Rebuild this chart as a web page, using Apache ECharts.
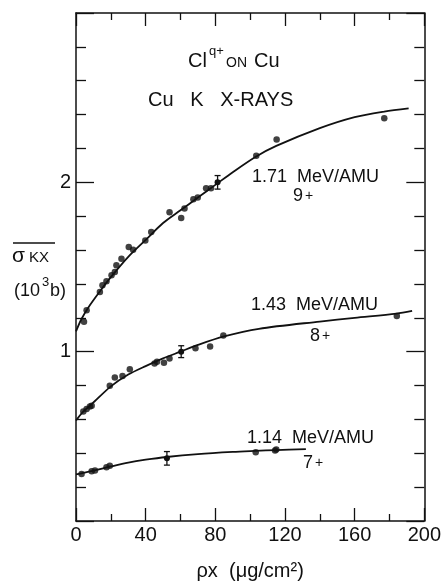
<!DOCTYPE html>
<html>
<head>
<meta charset="utf-8">
<script src="https://cdn.jsdelivr.net/npm/echarts@6/dist/echarts.min.js"></script>
<style>
  html, body { margin: 0; padding: 0; background: #fff; }
  #chart { width: 444px; height: 586px; }
</style>
</head>
<body>
<div id="chart"></div>
<script>
// measured points, x in ug/cm2, y in 10^3 b
const pts9 = [
  [4.6, 1.176], [6.1, 1.245], [13.7, 1.353], [15.2, 1.392], [17.5, 1.416],
  [20.4, 1.451], [22.3, 1.471], [23.2, 1.51], [26.1, 1.549], [30.3, 1.618],
  [32.8, 1.602], [39.8, 1.657], [43.2, 1.706], [53.7, 1.824], [60.4, 1.79],
  [62.3, 1.845], [67.4, 1.9], [69.9, 1.91], [74.7, 1.965], [77.5, 1.965],
  [103.5, 2.157], [115.2, 2.253], [177, 2.378]
];
const pts8 = [
  [4.2, 0.647], [6.1, 0.661], [8, 0.676], [9, 0.68], [19.4, 0.798],
  [22.3, 0.847], [26.7, 0.857], [30.9, 0.896], [45.1, 0.93], [46.5, 0.94],
  [50.5, 0.935], [53.7, 0.96], [68.6, 1.02], [77, 1.03], [84.6, 1.095],
  [184.2, 1.21]
];
const pts7 = [
  [3.2, 0.278], [9, 0.294], [10.9, 0.298], [17.5, 0.318], [19.4, 0.327],
  [103.2, 0.406], [114.3, 0.416], [115, 0.422]
];
// points carrying error bars: x, y, half-width
const errPts = [
  [81.3, 2.0, 0.04],
  [60.4, 1.0, 0.035],
  [52.2, 0.37, 0.04]
];
// fitted curves as drawn
const fit9 = [
  [0, 1.12], [3, 1.19], [7, 1.26], [14, 1.36], [20, 1.44], [30, 1.56],
  [40, 1.66], [50, 1.76], [60, 1.835], [70, 1.91], [80, 1.985], [90, 2.06],
  [103, 2.15], [115, 2.215], [140, 2.32], [160, 2.385], [177, 2.418], [191, 2.437]
];
const fit8 = [
  [0, 0.594], [4, 0.645], [9, 0.69], [20, 0.795], [30, 0.865], [40, 0.915],
  [50, 0.96], [60, 1.0], [70, 1.04], [85, 1.09], [105, 1.135], [140, 1.178],
  [160, 1.2], [184, 1.225], [193, 1.241]
];
const fit7 = [
  [0, 0.275], [5, 0.285], [10, 0.297], [20, 0.322], [30, 0.345], [40, 0.362],
  [52, 0.378], [70, 0.395], [90, 0.408], [103, 0.414], [115, 0.419], [132, 0.425]
];
const xTicks = [0, 40, 80, 120, 160, 200];
const yLabels = ['1', '2'];

const font = 'Liberation Sans, Arial, sans-serif';
const ink = '#111';

const chart = echarts.init(document.getElementById('chart'));

function valueAxis(pos, min, max, interval, split, len, minorLen, showLabel) {
  return {
    type: 'value', position: pos, min: min, max: max, interval: interval,
    axisLine: { show: true, onZero: false, lineStyle: { color: ink, width: 1.5 } },
    axisTick: { show: true, inside: true, length: len, lineStyle: { color: ink, width: 1.3 } },
    minorTick: { show: true, splitNumber: split, length: minorLen, lineStyle: { color: ink, width: 1.3 } },
    splitLine: { show: false },
    axisLabel: { show: showLabel, color: ink, fontFamily: font, fontSize: 20 }
  };
}

const xBottom = valueAxis('bottom', 0, 200, 40, 2, 13, 7, true);
xBottom.axisLabel.margin = 4;
xBottom.axisLabel.formatter = v => xTicks.includes(v) ? String(v) : '';
xBottom.name = 'ρx  (μg/cm²)';
xBottom.nameLocation = 'middle';
xBottom.nameGap = 40;
xBottom.nameTextStyle = { color: ink, fontFamily: font, fontSize: 20 };

const yLeft = valueAxis('left', 0, 3, 1, 5, 18, 10, true);
yLeft.axisLabel.margin = 5;
yLeft.axisLabel.formatter = v => yLabels.includes(String(v)) ? String(v) : '';

function lineSeries(data) {
  return {
    type: 'line', data: data, smooth: 0.3, symbol: 'none', silent: true,
    lineStyle: { color: ink, width: 1.8 }, z: 2
  };
}
function dotSeries(data) {
  return {
    type: 'scatter', data: data, symbol: 'circle', symbolSize: 6.5,
    itemStyle: { color: ink }, z: 3
  };
}

function txt(left, top, text, size) {
  return { type: 'text', left: left, top: top,
    style: { text: text, fill: ink, font: size + 'px ' + font } };
}

chart.setOption({
  animation: false,
  backgroundColor: '#fff',
  grid: { left: 76, right: 18, top: 13, bottom: 61 },
  xAxis: [xBottom, valueAxis('top', 0, 200, 40, 2, 13, 7, false)],
  yAxis: [yLeft, valueAxis('right', 0, 3, 1, 5, 18, 10, false)],
  series: [
    lineSeries(fit9), lineSeries(fit8), lineSeries(fit7),
    dotSeries(pts9), dotSeries(pts8), dotSeries(pts7),
    {
      type: 'custom', data: errPts, z: 4,
      renderItem: (params, api) => {
        const c = api.coord([api.value(0), api.value(1)]);
        const hi = api.coord([api.value(0), api.value(1) + api.value(2)]);
        const lo = api.coord([api.value(0), api.value(1) - api.value(2)]);
        const st = { stroke: ink, lineWidth: 1.3 };
        return { type: 'group', children: [
          { type: 'line', shape: { x1: c[0], y1: hi[1], x2: c[0], y2: lo[1] }, style: st },
          { type: 'line', shape: { x1: c[0] - 3, y1: hi[1], x2: c[0] + 3, y2: hi[1] }, style: st },
          { type: 'line', shape: { x1: c[0] - 3, y1: lo[1], x2: c[0] + 3, y2: lo[1] }, style: st },
          { type: 'circle', shape: { cx: c[0], cy: c[1], r: 3 }, style: { fill: ink } }
        ] };
      }
    }
  ],
  graphic: [
    txt(188, 51, 'Cl', 20),
    txt(209, 45, 'q+', 13),
    txt(226, 56, 'ON', 14),
    txt(254, 51, 'Cu', 20),
    txt(148, 90, 'Cu   K   X-RAYS', 20),
    txt(252, 168, '1.71  MeV/AMU', 18),
    txt(293, 187, '9', 18), txt(305, 189, '+', 14),
    txt(251, 296, '1.43  MeV/AMU', 18),
    txt(310, 327, '8', 18), txt(322, 329, '+', 14),
    txt(247, 429, '1.14  MeV/AMU', 18),
    txt(303, 454, '7', 18), txt(315, 456, '+', 14),
    // y axis title with overline
    { type: 'line', shape: { x1: 13, y1: 243, x2: 55, y2: 243 }, style: { stroke: ink, lineWidth: 1.5 } },
    txt(12, 246, 'σ', 21),
    txt(29, 250, 'KX', 15),
    txt(14, 282, '(10', 18),
    txt(42, 276, '3', 13),
    txt(50, 282, 'b)', 18)
  ]
});
</script>
</body>
</html>
